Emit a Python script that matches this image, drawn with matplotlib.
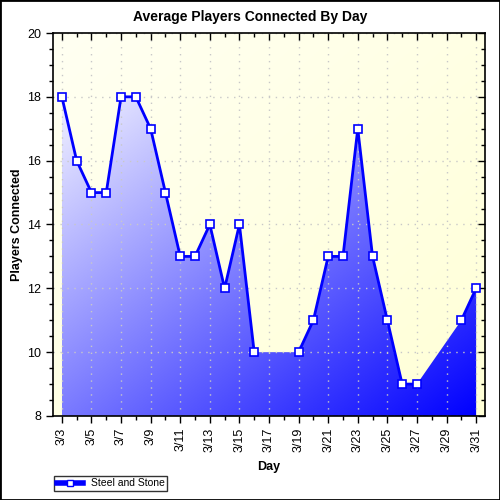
import matplotlib.pyplot as plt
import numpy as np
from matplotlib.lines import Line2D
from matplotlib.patches import Rectangle
from matplotlib.ticker import MultipleLocator

plt.rcParams['font.family'] = ['Liberation Sans', 'DejaVu Sans']

# data: days of March, average players (None = no data that day)
days = list(range(3, 32))
players = [18, 16, 15, 15, 18, 18, 17, 15, 13, 13, 14, 12, 14, 10, None, None,
           10, 11, 13, 13, 17, 13, 11, 9, 9, None, None, 11, 12]
tick_days = list(range(3, 32, 2))
tick_labels = ['3/%d' % d for d in tick_days]
series_name = 'Steel and Stone'

x = np.array(days, dtype=float)
y = np.array([np.nan if v is None else v for v in players], dtype=float)
ok = ~np.isnan(y)

fig = plt.figure(figsize=(5, 5), dpi=100)
ax = fig.add_axes([0.106, 0.168, 0.864, 0.766])
xlim = (2.4, 31.6)
ylim = (8, 20)
ax.set_xlim(*xlim)
ax.set_ylim(*ylim)

# plot background gradient (pale yellow)
u = np.linspace(0, 1, 200)
U, V = np.meshgrid(u, u)
t = (U + V) / 2
bg = np.zeros((200, 200, 3))
c0 = np.array([1.0, 1.0, 0.95])
c1 = np.array([1.0, 1.0, 0.84])
for i in range(3):
    bg[..., i] = c0[i] * (1 - t) + c1[i] * t
ax.imshow(bg, extent=(*xlim, *ylim), origin='upper', aspect='auto', zorder=0)

# area with diagonal gradient, clipped to the fill polygon
poly = ax.fill_between(x[ok], y[ok], 8, color='none', zorder=1)
ga = np.zeros((200, 200, 3))
a0 = np.array([0.95, 0.95, 1.0])
a1 = np.array([0.0, 0.0, 1.0])
for i in range(3):
    ga[..., i] = a0[i] * (1 - t) + a1[i] * t
x0, x1 = x[ok].min(), x[ok].max()
im = ax.imshow(ga, extent=(x0, x1, 8, 18), origin='upper', aspect='auto', zorder=1)
im.set_clip_path(poly.get_paths()[0], transform=ax.transData)

ax.plot(x, y, color='#0000ff', lw=2, marker='s', ms=5.5, mfc='white',
        mec='#0000ff', mew=1.2, zorder=3)

ax.set_xticks(tick_days)
ax.set_xticklabels(tick_labels, rotation=90, fontsize=9)
ax.xaxis.set_minor_locator(MultipleLocator(1))
ax.yaxis.set_major_locator(MultipleLocator(2))
ax.yaxis.set_minor_locator(MultipleLocator(0.5))
ax.tick_params(axis='both', which='major', length=5, width=1, labelsize=9, color='black')
ax.tick_params(axis='both', which='minor', length=3, width=1)
ax.tick_params(top=True, right=True, which='both', direction='out')
for tk in ax.xaxis.get_major_ticks() + ax.xaxis.get_minor_ticks():
    tk.tick2line.set_marker(3)
for tk in ax.yaxis.get_major_ticks() + ax.yaxis.get_minor_ticks():
    tk.tick2line.set_marker(0)

ax.grid(True, which='major', color='#c8c8c8', linestyle=(0, (1, 4)), lw=1)
ax.set_axisbelow(False)
for s in ax.spines.values():
    s.set_linewidth(1.2)
    s.set_zorder(4)

fig.text(0.5, 1 - 17 / 500, 'Average Players Connected By Day', fontsize=10,
         fontweight='bold', ha='center', va='center')
ax.set_xlabel('Day', fontsize=9, fontweight='bold', labelpad=6)
ax.set_ylabel('Players Connected', fontsize=9, fontweight='bold')
ax.yaxis.set_label_coords((23 - 53) / 432, 0.5)

h = Line2D([], [], color='#0000ff', lw=4, marker='s', ms=5, mfc='white', mec='#0000ff')
leg = fig.legend([h], [series_name], loc='lower left', bbox_to_anchor=(0.108, 0.018),
                 fontsize=7.5, frameon=True, fancybox=False, edgecolor='black',
                 borderpad=0.25, handlelength=2.5, borderaxespad=0)
leg.get_frame().set_linewidth(1)

fig.patches.append(Rectangle((0, 0), 1, 1, transform=fig.transFigure, fill=False,
                             edgecolor='black', lw=2))

fig.savefig('out.png', dpi=100)
